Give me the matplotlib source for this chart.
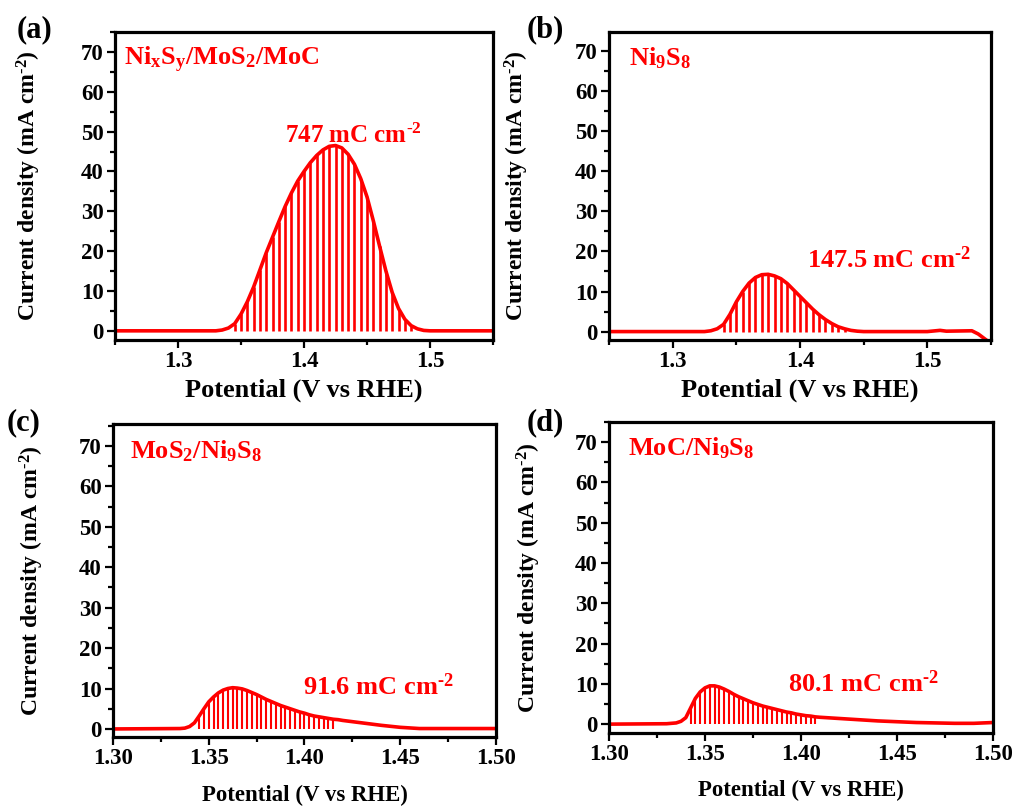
import numpy as np
import matplotlib
matplotlib.use('Agg')
import matplotlib.pyplot as plt
from matplotlib.ticker import MultipleLocator

plt.rcParams['font.family'] = 'Liberation Serif'
plt.rcParams['font.weight'] = 'bold'
plt.rcParams['mathtext.fontset'] = 'custom'
plt.rcParams['mathtext.rm'] = 'Liberation Serif:bold'
plt.rcParams['mathtext.bf'] = 'Liberation Serif:bold'
plt.rcParams['mathtext.it'] = 'Liberation Serif:bold'
plt.rcParams['mathtext.default'] = 'rm'

# (a) NixSy/MoS2/MoC
pot_a = [1.25, 1.330, 1.335, 1.340, 1.345, 1.350, 1.355, 1.360, 1.365, 1.370, 1.375, 1.380,
         1.385, 1.390, 1.395, 1.400, 1.405, 1.410, 1.415, 1.420, 1.425, 1.430, 1.435, 1.440,
         1.445, 1.450, 1.455, 1.460, 1.465, 1.470, 1.475, 1.480, 1.485, 1.490, 1.495, 1.500, 1.55]
cur_a = [0, 0, 0.2, 0.7, 1.8, 4.2, 7.3, 11.0, 15.3, 19.6, 23.5, 27.4,
         31.2, 34.6, 37.6, 40.0, 42.2, 44.0, 45.4, 46.3, 46.5, 45.9, 44.3, 41.8,
         38.2, 33.6, 27.6, 21.2, 15.0, 9.6, 5.6, 2.9, 1.3, 0.5, 0.1, 0, 0]
hatch_a = (1.345, 1.485)

# (b) Ni9S8
pot_b = [1.25, 1.325, 1.330, 1.335, 1.340, 1.345, 1.350, 1.355, 1.360, 1.365, 1.370, 1.375,
         1.380, 1.385, 1.390, 1.395, 1.400, 1.405, 1.410, 1.415, 1.420, 1.425, 1.430, 1.435,
         1.440, 1.445, 1.450, 1.500, 1.510, 1.515, 1.535, 1.540, 1.548]
cur_b = [0, 0, 0.2, 0.7, 1.8, 4.3, 7.4, 10.0, 12.1, 13.5, 14.2, 14.3,
         13.9, 13.2, 12.0, 10.4, 8.8, 7.2, 5.6, 4.2, 3.0, 2.0, 1.2, 0.7,
         0.3, 0.1, 0, 0, 0.3, 0.1, 0.2, -0.6, -2.5]
hatch_b = (1.340, 1.435)

# (c) MoS2/Ni9S8
pot_c = [1.300, 1.335, 1.3375, 1.340, 1.3425, 1.345, 1.3475, 1.350, 1.3525, 1.355, 1.3575,
         1.360, 1.3625, 1.365, 1.3675, 1.370, 1.3725, 1.375, 1.3775, 1.380, 1.3825, 1.385,
         1.3875, 1.390, 1.3925, 1.395, 1.3975, 1.400, 1.4025, 1.405, 1.4075, 1.410, 1.4125,
         1.415, 1.4175, 1.420, 1.430, 1.440, 1.450, 1.460, 1.500]
cur_c = [0, 0.1, 0.2, 0.6, 1.5, 3.2, 5.0, 6.7, 7.9, 8.9, 9.6,
         10.0, 10.2, 10.1, 9.9, 9.5, 9.0, 8.5, 7.9, 7.3, 6.8, 6.3,
         5.8, 5.4, 5.0, 4.6, 4.2, 3.9, 3.5, 3.2, 3.0, 2.8, 2.6,
         2.4, 2.3, 2.1, 1.5, 0.9, 0.4, 0.1, 0.1]
hatch_c = (1.345, 1.415)

# (d) MoC/Ni9S8
pot_d = [1.300, 1.330, 1.335, 1.3375, 1.340, 1.3425, 1.345, 1.3475, 1.350, 1.3525, 1.355,
         1.3575, 1.360, 1.3625, 1.365, 1.3675, 1.370, 1.3725, 1.375, 1.3775, 1.380, 1.3825,
         1.385, 1.3875, 1.390, 1.3925, 1.395, 1.3975, 1.400, 1.4025, 1.405, 1.4075, 1.410,
         1.420, 1.430, 1.440, 1.450, 1.460, 1.470, 1.480, 1.490, 1.500]
cur_d = [0, 0.1, 0.3, 0.7, 1.6, 4.0, 6.4, 8.0, 9.0, 9.5, 9.5,
         9.2, 8.7, 8.1, 7.4, 6.8, 6.3, 5.8, 5.3, 4.9, 4.5, 4.2,
         3.9, 3.6, 3.3, 3.0, 2.8, 2.5, 2.3, 2.1, 2.0, 1.8, 1.7,
         1.4, 1.1, 0.8, 0.6, 0.4, 0.3, 0.2, 0.2, 0.4]
hatch_d = (1.3425, 1.4075)

labels = ['(a)', '(b)', '(c)', '(d)']
names = [r'Ni$_x$S$_y$/MoS$_2$/MoC', r'Ni$_9$S$_8$', r'MoS$_2$/Ni$_9$S$_8$', r'MoC/Ni$_9$S$_8$']
charges = [r'747 mC cm$^{\text{-}2}$', r'147.5 mC cm$^{\text{-}2}$',
           r'91.6 mC cm$^{\text{-}2}$', r'80.1 mC cm$^{\text{-}2}$']

fig = plt.figure(figsize=(10.17, 8.07), dpi=100)


def draw_panel(rect, x, y, hatch, hatch_lw, xlim, ylim, xmaj, xfmt, name, name_pos, charge,
               charge_pos, charge_size, xlab_size, xlab_y, ylab_x):
    ax = fig.add_axes(rect)
    x = np.array(x)
    y = np.array(y)
    m = (x >= hatch[0] - 1e-9) & (x <= hatch[1] + 1e-9)
    ax.vlines(x[m], 0, y[m], color='red', lw=hatch_lw)
    ax.plot(x, y, color='red', lw=2.6, solid_capstyle='butt')
    ax.set_xlim(xlim)
    ax.set_ylim(ylim)
    ax.xaxis.set_major_locator(MultipleLocator(xmaj))
    ax.xaxis.set_minor_locator(MultipleLocator(xmaj / 2))
    ax.yaxis.set_major_locator(MultipleLocator(10))
    ax.yaxis.set_minor_locator(MultipleLocator(5))
    ax.xaxis.set_major_formatter(plt.FormatStrFormatter(xfmt))
    ax.tick_params(which='major', length=6, width=1.6, labelsize=16.5, pad=2)
    ax.tick_params(which='minor', length=3.5, width=1.6)
    for s in ax.spines.values():
        s.set_linewidth(2.3)
    ax.set_xlabel('Potential (V vs RHE)', fontsize=xlab_size, fontweight='bold')
    ax.set_ylabel(r'Current density (mA cm$^{\text{-}2}$)', fontsize=17, fontweight='bold')
    ax.xaxis.set_label_coords(0.5, xlab_y)
    ax.yaxis.set_label_coords(ylab_x, 0.5)
    ax.text(name_pos[0], name_pos[1], name, transform=ax.transAxes, color='red',
            fontsize=19, va='baseline', ha='left')
    ax.text(charge_pos[0], charge_pos[1], charge, transform=ax.transAxes, color='red',
            fontsize=charge_size, va='baseline', ha='left')
    return ax


draw_panel([0.1131, 0.5787, 0.3717, 0.3817], pot_a, cur_a, hatch_a, 1.9, (1.25, 1.55), (-2.3, 75),
           0.1, '%.1f', names[0], (0.024, 0.893), charges[0], (0.450, 0.640), 18, 19, -0.125, -0.19)
draw_panel([0.5988, 0.5787, 0.3756, 0.3817], pot_b, cur_b, hatch_b, 1.9, (1.25, 1.55), (-2.1, 74.8),
           0.1, '%.1f', names[1], (0.052, 0.893), charges[1], (0.518, 0.234), 19, 19, -0.125, -0.205)
draw_panel([0.1111, 0.0867, 0.3766, 0.3879], pot_c, cur_c, hatch_c, 1.5, (1.30, 1.50), (-2.0, 75.4),
           0.05, '%.2f', names[2], (0.044, 0.891), charges[2], (0.496, 0.134), 19, 16.5, -0.152, -0.175)
draw_panel([0.5988, 0.0917, 0.3776, 0.3854], pot_d, cur_d, hatch_d, 1.5, (1.30, 1.50), (-2.2, 75),
           0.05, '%.2f', names[3], (0.049, 0.894), charges[3], (0.466, 0.132), 19, 16.5, -0.152, -0.172)

label_xy = [(17, 30), (527, 30), (7, 423), (527, 423)]
for lab, (px, py) in zip(labels, label_xy):
    fig.text(px / 1017, 1 - py / 807, lab, fontsize=22, fontweight='bold', va='center', ha='left')

fig.savefig('out.png', dpi=100)
